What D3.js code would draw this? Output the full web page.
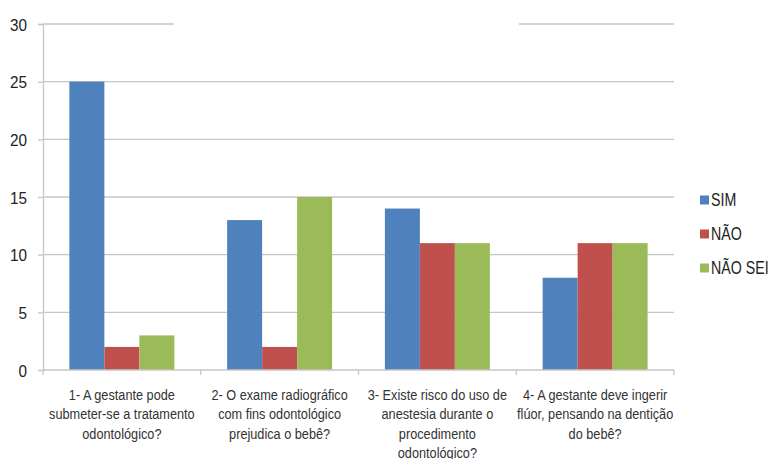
<!DOCTYPE html>
<html><head><meta charset="utf-8">
<script src="https://cdn.jsdelivr.net/npm/d3@7"></script>
<style>body{margin:0;background:#fff}svg{display:block}</style>
</head><body>
<svg id="c" width="774" height="459"></svg>
<script>
const categories = [
  ["1- A gestante pode","submeter-se a tratamento","odontológico?"],
  ["2- O exame radiográfico","com fins odontológico","prejudica o bebê?"],
  ["3- Existe risco do uso de","anestesia durante o","procedimento","odontológico?"],
  ["4- A gestante deve ingerir","flúor, pensando na dentição","do bebê?"]
];
const seriesNames = ["SIM","NÃO","NÃO SEI"];
const sim = [25,13,14,8];
const nao = [2,2,11,11];
const naoSei = [3,15,11,11];
const yTicks = [0,5,10,15,20,25,30];
const colors = ["#4F81BD","#C0504D","#9BBB59"];
const seriesValues = [sim,nao,naoSei];

const svg = d3.select("#c");
const L=43, R=674, T=24, B=370;
const idx = categories.map((d,i)=>i);
const x0 = d3.scaleBand().domain(idx).range([L,R]).padding(0);
const x1 = d3.scaleBand().domain(seriesNames).range([0,x0.bandwidth()]).paddingInner(0).paddingOuter(0.754);
const y = d3.scaleLinear().domain([0,30]).range([B,T]);
const font = "'Liberation Sans',Arial,sans-serif";

function squeeze(sel, f){
  sel.each(function(){
    const w = this.getComputedTextLength();
    d3.select(this).attr("textLength", w*f).attr("lengthAdjust","spacingAndGlyphs");
  });
}

// gridlines
const grid = svg.append("g");
yTicks.filter(t=>t>0 && t<30).forEach(t=>{
  grid.append("line").attr("x1",L).attr("x2",R).attr("y1",y(t)).attr("y2",y(t))
    .attr("stroke","#c6c6c6").attr("stroke-width",1.3);
});
// top gridline partially hidden (title area)
[[L,174],[519,R]].forEach(([a,b])=>{
  grid.append("line").attr("x1",a).attr("x2",b).attr("y1",y(30)).attr("y2",y(30))
    .attr("stroke","#c6c6c6").attr("stroke-width",1.3);
});

// y axis
const yAxis = d3.axisLeft(y).tickValues(yTicks).tickSize(5).tickPadding(11);
const ga = svg.append("g").attr("transform",`translate(${L},0)`).call(yAxis);
ga.select(".domain").attr("stroke","#c6c6c6").attr("stroke-width",1.3);
ga.selectAll(".tick line").attr("stroke","#c6c6c6").attr("stroke-width",1.3);
ga.selectAll(".tick text").attr("font-family",font).attr("font-size",17).attr("fill","#222").attr("dy","0.36em");
squeeze(ga.selectAll(".tick text"),0.9);

// bars
seriesNames.forEach((s,si)=>{
  svg.append("g").selectAll("rect").data(seriesValues[si]).join("rect")
    .attr("x",(d,i)=>x0(i)+x1(s))
    .attr("width",x1.bandwidth())
    .attr("y",d=>y(d))
    .attr("height",d=>y(0)-y(d))
    .attr("fill",colors[si]);
});

// x axis
const gx = svg.append("g");
gx.append("line").attr("x1",L).attr("x2",R).attr("y1",B).attr("y2",B).attr("stroke","#c6c6c6").attr("stroke-width",1.3);
d3.range(categories.length+1).forEach(i=>{
  const xx = L + i*x0.bandwidth();
  gx.append("line").attr("x1",xx).attr("x2",xx).attr("y1",B).attr("y2",B+5).attr("stroke","#c6c6c6").attr("stroke-width",1.3);
});
categories.forEach((lines,i)=>{
  lines.forEach((ln,j)=>{
    gx.append("text").attr("font-family",font).attr("font-size",15.5).attr("fill","#333")
      .attr("text-anchor","middle")
      .attr("x",x0(i)+x0.bandwidth()/2).attr("y",400+j*19.4).text(ln);
  });
});
squeeze(gx.selectAll("text"),0.82);

// legend
const lg = svg.append("g");
seriesNames.forEach((s,i)=>{
  const cy = 200 + i*34;
  lg.append("rect").attr("x",700).attr("y",cy-4.5).attr("width",9).attr("height",9).attr("fill",colors[i]);
  lg.append("text").attr("x",711).attr("y",cy).attr("dy","0.36em").attr("font-family",font)
    .attr("font-size",18).attr("fill","#222").text(s);
});
squeeze(lg.selectAll("text"),0.79);
</script>
</body></html>
